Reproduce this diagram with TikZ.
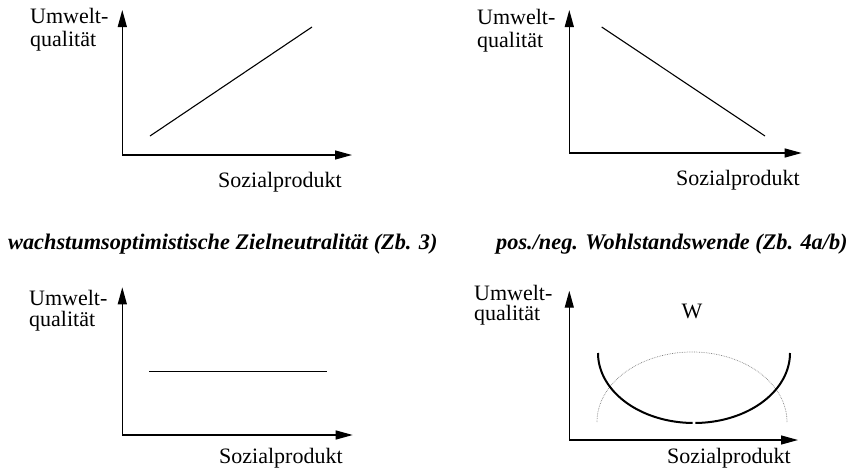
\documentclass[tikz,border=0pt]{standalone}
\usepackage{fontspec}
\setmainfont{Liberation Serif}
\usetikzlibrary{arrows.meta}
\begin{document}
\begin{tikzpicture}[x=1pt,y=-1pt,
  axis/.style={line width=1.3pt,-{Triangle[length=17pt,width=9pt]}},
  graphline/.style={line width=1.1pt},
  ucurve/.style={line width=2pt},
  dotcurve/.style={line width=0.7pt,densely dotted,gray},
  lbl/.style={inner sep=0pt,anchor=base west,font=\fontsize{22}{24}\selectfont},
  captiontext/.style={inner sep=0pt,anchor=base west,font=\fontsize{22.3}{24}\selectfont\bfseries\itshape}]
\useasboundingbox (0,0) rectangle (852,474);
% ---------- panel 1 ----------
\coordinate (o1) at (122.3,155);
\coordinate (y1) at (122.3,10);
\coordinate (x1) at (352,155);
\coordinate (a1) at (150,136);
\coordinate (b1) at (312,27);
\draw[axis] (o1) -- (y1);
\draw[axis] (o1) -- (x1);
\draw[graphline] (a1) -- (b1);
\node[lbl] (u1) at (30,23) {Umwelt-};
\node[lbl] (q1) at (30,46) {qualität};
\node[lbl] (s1) at (218,187) {Sozialprodukt};
% ---------- panel 2 ----------
\coordinate (o2) at (569.3,153);
\coordinate (y2) at (569.3,10);
\coordinate (x2) at (801.7,153);
\coordinate (a2) at (601.7,27);
\coordinate (b2) at (765,136);
\draw[axis] (o2) -- (y2);
\draw[axis] (o2) -- (x2);
\draw[graphline] (a2) -- (b2);
\node[lbl] (u2) at (477,24) {Umwelt-};
\node[lbl] (q2) at (477,47) {qualität};
\node[lbl] (s2) at (676,185) {Sozialprodukt};
% ---------- captions ----------
\node[captiontext] (c1) at (8,249) {wachstumsoptimistische Zielneutralität (Zb. 3)};
\node[captiontext] (c2) at (496,249) {pos./neg. Wohlstandswende (Zb. 4a/b)};
% ---------- panel 3 ----------
\coordinate (o3) at (122.3,435);
\coordinate (y3) at (122.3,287.3);
\coordinate (x3) at (352.7,435);
\coordinate (a3) at (149,371.7);
\coordinate (b3) at (327,371.7);
\draw[axis] (o3) -- (y3);
\draw[axis] (o3) -- (x3);
\draw[graphline] (a3) -- (b3);
\node[lbl] (u3) at (29,305) {Umwelt-};
\node[lbl] (q3) at (29,326) {qualität};
\node[lbl] (s3) at (219,463) {Sozialprodukt};
% ---------- panel 4 ----------
\coordinate (o4) at (569.3,440);
\coordinate (y4) at (569.3,290.7);
\coordinate (x4) at (798,440);
\draw[axis] (o4) -- (y4);
\draw[axis] (o4) -- (x4);
\node[lbl] (u4) at (474,300) {Umwelt-};
\node[lbl] (q4) at (474,320) {qualität};
\node[lbl,anchor=center] (w4) at (692,311.7) {W};
\node[lbl] (s4) at (667,463) {Sozialprodukt};
\draw[dotcurve] plot[domain=0:180,samples=80] ({692+95*cos(\x)},{422-70*sin(\x)});
\draw[ucurve] plot[domain=0:89.2,samples=50] ({694-96*cos(\x)},{353+70*sin(\x)});
\draw[ucurve] plot[domain=0:89.2,samples=50] ({694+96*cos(\x)},{353+70*sin(\x)});
\end{tikzpicture}
\end{document}
